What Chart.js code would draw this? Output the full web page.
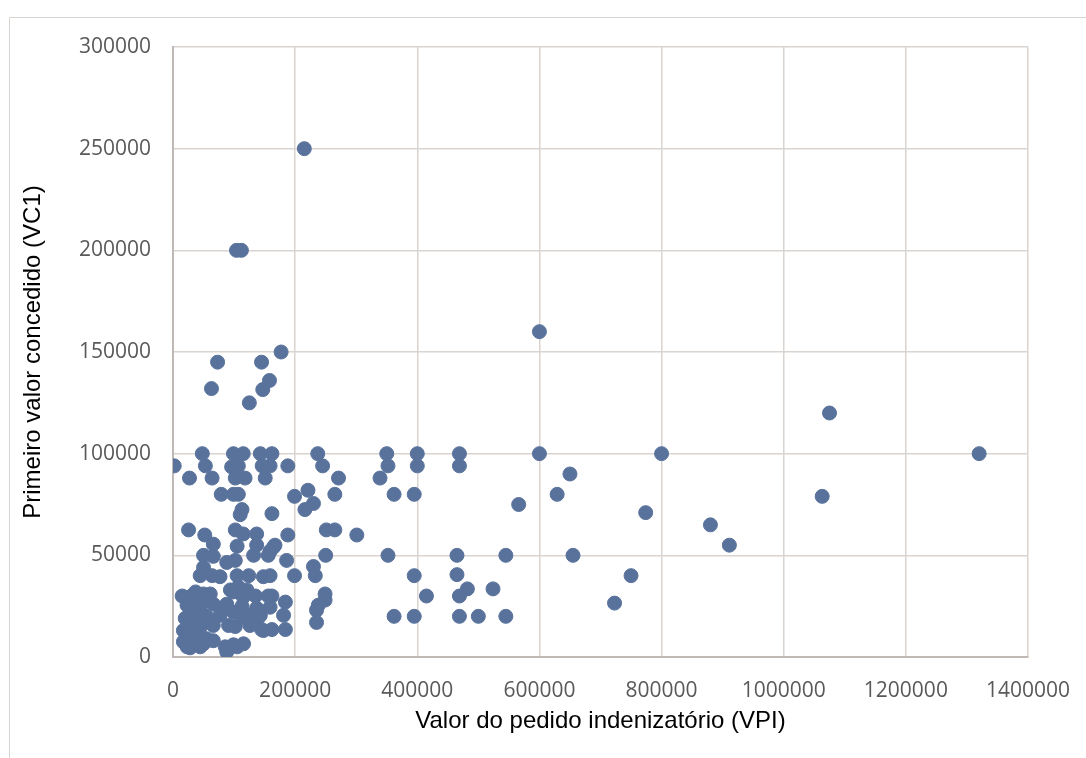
<!DOCTYPE html>
<html>
<head>
<meta charset="utf-8">
<script src="https://cdn.jsdelivr.net/npm/chart.js@4.4.1/dist/chart.umd.min.js"></script>
<style>
  html, body { margin: 0; padding: 0; background: #fff; }
  #wrap { width: 1086px; height: 758px; position: relative; }
</style>
</head>
<body>
<div id="wrap"><canvas id="chart"></canvas></div>
<script>
// Valor do pedido indenizatório (VPI)
let vpi = [
  2000, 215000, 104000, 112000, 600000, 1075000, 1320000, 1063000, 800000, 600000,
  880000, 911000, 655000, 650000, 629000, 566000, 774000, 750000, 723000, 545000,
  545000, 524000, 500000, 482000, 469000, 469000, 465000, 465000, 469000, 469000,
  400000, 400000, 350000, 352000, 339000, 271000, 265000, 362000, 395000, 265000,
  301000, 352000, 395000, 415000, 362000, 395000, 250000,
  73000, 145000, 177000, 63000, 158000, 147000, 125000,
  48000, 53000, 27000, 64000, 99000, 115000, 96000, 107000, 102000, 118000,
  143000, 162000, 146000, 159000, 151000, 188000, 79000, 99000, 107000, 113000,
  110000, 162000, 199000, 221000, 230000, 216000, 237000, 245000, 25500, 52000,
  102000, 115000, 137000, 188000, 251000, 66000, 105000, 137000, 167000, 156000,
  132000, 50000, 66000, 88000, 102000, 50000, 186000, 199000, 230000, 233000,
  249000, 249000, 238000, 235000, 235000, 44500, 64000, 77000, 105000, 124000,
  148000, 159000, 164500, 15000, 30000, 50000, 61000, 37000, 94000, 107000,
  121000, 99000, 115000, 135000, 156000, 162000, 184000, 181000, 184000, 162000,
  145000, 126000, 102000, 77000, 126000, 143000, 115000, 88000, 23000, 44500,
  66000, 85500, 99000, 113000, 137000, 159000, 20000, 39000, 28000, 115000,
  140000, 17000, 44500, 66000, 91000, 148000, 17000, 36500, 50000, 66000,
  28000, 44500, 85500, 105000, 115500, 88000, 99000, 25000, 40000, 55000,
  30000, 23000, 159000, 35000, 55000, 35000, 55000, 30000
];

// Primeiro valor concedido (VC1)
let vc1 = [
  94000, 250000, 200000, 200000, 160000, 120000, 100000, 79000, 100000, 100000,
  65000, 55000, 50000, 90000, 80000, 75000, 71000, 40000, 26500, 50000,
  20000, 33500, 20000, 33500, 30000, 20000, 50000, 40500, 100000, 94000,
  100000, 94000, 100000, 94000, 88000, 88000, 80000, 80000, 80000, 62500,
  60000, 50000, 40000, 30000, 20000, 20000, 50000,
  145000, 145000, 150000, 132000, 136000, 131500, 125000,
  100000, 94000, 88000, 88000, 100000, 100000, 93500, 94000, 88000, 88000,
  100000, 100000, 94000, 94000, 88000, 94000, 80000, 80000, 80000, 72500,
  70000, 70500, 79000, 82000, 75500, 72500, 100000, 94000, 62500, 60000,
  62500, 60500, 60500, 60000, 62500, 55500, 54500, 55000, 55000, 50000,
  50000, 50000, 49500, 46500, 47500, 44000, 47500, 40000, 44500, 40000,
  31000, 28000, 25500, 23000, 17000, 40000, 40000, 39500, 40000, 40000,
  39500, 40000, 54000, 30000, 30000, 31000, 31000, 32000, 33000, 34500,
  33000, 32000, 32000, 30000, 30000, 30000, 27000, 20500, 13500, 13500,
  13500, 15500, 15000, 20500, 20500, 20500, 29500, 26000, 25500, 24500,
  26000, 25000, 22000, 25000, 24000, 24500, 19000, 19500, 21500, 19500,
  19500, 13000, 14500, 15500, 15500, 13000, 7500, 8000, 6500, 8000,
  4500, 5000, 5000, 5000, 6500, 2500, 6000, 10500, 11000, 20000,
  16000, 5000, 52000, 27000, 28000, 13000, 9000, 9000
];

let xTicks = [0, 200000, 400000, 600000, 800000, 1000000, 1200000, 1400000];
let yTicks = [0, 50000, 100000, 150000, 200000, 250000, 300000];

let points = vpi.map((x, i) => ({ x: x, y: vc1[i] }));

const frame = {
  id: "frame",
  beforeDraw(chart) {
    const ctx = chart.ctx;
    ctx.save();
    ctx.strokeStyle = "#d9d4d0";
    ctx.lineWidth = 1;
    ctx.beginPath();
    ctx.moveTo(9.5, 758);
    ctx.lineTo(9.5, 17.5);
    ctx.lineTo(1086, 17.5);
    ctx.stroke();
    ctx.restore();
  },
};

let tickFont = { family: "'Open Sans', sans-serif", size: 21 };
let titleFont = { family: "'Liberation Sans', Arial, sans-serif", size: 24 };

new Chart(document.getElementById("chart"), {
  type: "scatter",
  data: {
    datasets: [
      {
        label: "VC1",
        data: points,
        backgroundColor: "#59729b",
        borderColor: "#59729b",
        borderWidth: 1,
        pointRadius: 7,
        pointHoverRadius: 7,
      },
    ],
  },
  options: {
    responsive: true,
    maintainAspectRatio: false,
    animation: false,
    layout: { padding: { left: 0, right: 58, top: 47, bottom: 0 } },
    plugins: { legend: { display: false }, tooltip: { enabled: false } },
    scales: {
      x: {
        type: "linear",
        min: 0,
        max: 1400000,
        afterFit: (scale) => {
          scale.height = 101;
          scale.paddingLeft = 0;
          scale.paddingRight = 0;
        },
        afterBuildTicks: (scale) => { scale.ticks = xTicks.map((v) => ({ value: v })); },
        grid: { color: "#d9d4d0", lineWidth: 1.5, drawTicks: false },
        border: { color: "#bfb8b4", width: 2 },
        ticks: { color: "#595959", font: tickFont, padding: 21, maxRotation: 0, autoSkip: false, callback: (v) => String(v) },
        title: { display: true, text: "Valor do pedido indenizatório (VPI)", color: "#000", font: titleFont, padding: { top: 4, bottom: 22 } },
      },
      y: {
        type: "linear",
        min: 0,
        max: 300000,
        afterFit: (scale) => {
          scale.width = 173;
          scale.paddingTop = 0;
          scale.paddingBottom = 0;
        },
        afterBuildTicks: (scale) => { scale.ticks = yTicks.map((v) => ({ value: v })); },
        grid: { color: "#d9d4d0", lineWidth: 1.5, drawTicks: false },
        border: { color: "#bfb8b4", width: 2 },
        ticks: { color: "#595959", font: tickFont, padding: 22, autoSkip: false, callback: (v) => String(v) },
        title: { display: true, text: "Primeiro valor concedido (VC1)", color: "#000", font: titleFont, padding: { top: 19, bottom: 4 } },
      },
    },
  },
  plugins: [frame],
});
</script>
</body>
</html>
